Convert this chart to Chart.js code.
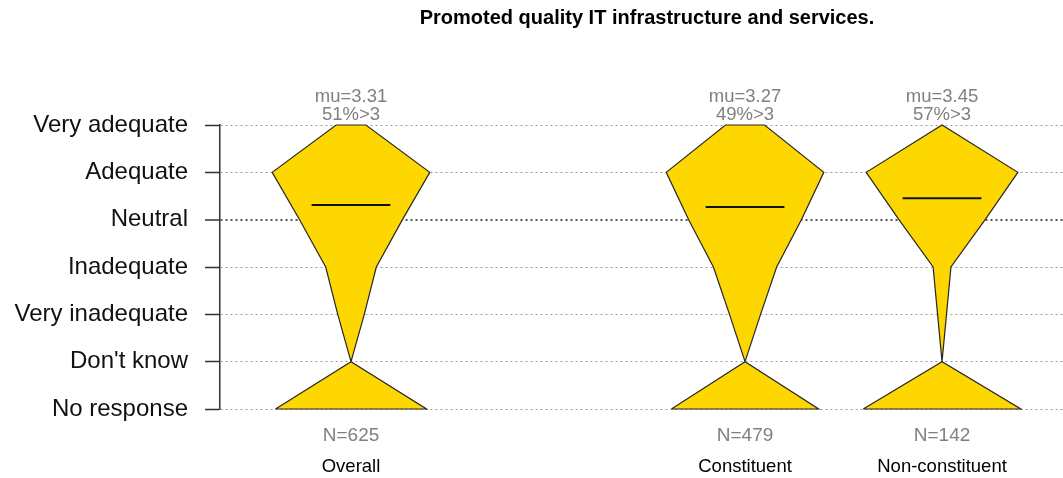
<!DOCTYPE html>
<html>
<head>
<meta charset="utf-8">
<script src="https://cdn.jsdelivr.net/npm/chart.js@4.4.1/dist/chart.umd.min.js"></script>
<style>
  html, body { margin: 0; padding: 0; background: #ffffff; }
  #chart { display: block; }
</style>
</head>
<body>
<canvas id="chart" width="1063" height="478"></canvas>
<script>
const TITLE = 'Promoted quality IT infrastructure and services.';

// y levels, bottom to top
const categories = ['No response', "Don't know", 'Very inadequate', 'Inadequate', 'Neutral', 'Adequate', 'Very adequate'];
const levels     = [-1, 0, 1, 2, 3, 4, 5];

const groups   = ['Overall', 'Constituent', 'Non-constituent'];
const groupPos = [1, 3, 4];

// respondent counts per category (same order as categories)
const overallCounts        = [182, 0, 32, 61, 124, 190, 36];
const constituentCounts    = [128, 0, 27, 55, 98, 137, 34];
const nonConstituentCounts = [53, 0, 3, 6, 29, 51, 0];

const muValues  = [3.31, 3.27, 3.45];
const pctAbove3 = [51, 49, 57];
const nTotals   = [625, 479, 142];

const FONT = '"Liberation Sans", Arial, Helvetica, sans-serif';
const FILL = '#FFD700';
const EDGE = '#262626';
const MAX_HALF = 0.4;   // half width of the widest category, x units
const MEAN_HALF = 0.2;

/* ── build shapes ── */
function violinDatasets(counts, pos) {
  const maxC = Math.max(...counts);
  const w = counts.map(c => c / maxC * MAX_HALF);

  // body: Don't know .. Very adequate
  const body = [];
  for (let k = 1; k < levels.length; k++) body.push({ x: pos - w[k], y: levels[k] });
  for (let k = levels.length - 1; k >= 1; k--) body.push({ x: pos + w[k], y: levels[k] });
  body.push(body[0]);

  // no response triangle
  const tri = [
    { x: pos - w[0], y: levels[0] },
    { x: pos, y: levels[1] },
    { x: pos + w[0], y: levels[0] },
    { x: pos - w[0], y: levels[0] }
  ];

  const base = {
    showLine: true,
    fill: 'shape',
    backgroundColor: FILL,
    borderColor: EDGE,
    borderWidth: 1.2,
    borderJoinStyle: 'miter',
    pointRadius: 0,
    tension: 0,
    clip: false,
    order: 1
  };
  return [{ ...base, data: body }, { ...base, data: tri }];
}

function meanDataset(mu, pos) {
  return {
    showLine: true,
    fill: false,
    data: [{ x: pos - MEAN_HALF, y: mu }, { x: pos + MEAN_HALF, y: mu }],
    borderColor: '#111111',
    borderWidth: 2,
    pointRadius: 0,
    clip: false,
    order: 0
  };
}

const allCounts = [overallCounts, constituentCounts, nonConstituentCounts];
const datasets = [];
groups.forEach((g, i) => {
  datasets.push(meanDataset(muValues[i], groupPos[i]));
  datasets.push(...violinDatasets(allCounts[i], groupPos[i]));
});

/* ── text annotations ── */
const textPlugin = {
  id: 'texts',
  afterDraw(chart) {
    const { ctx, scales: { x } } = chart;
    ctx.save();
    ctx.textAlign = 'center';
    ctx.textBaseline = 'middle';

    ctx.fillStyle = '#000000';
    ctx.font = 'bold 20px ' + FONT;
    ctx.fillText(TITLE, 647, 18);

    groups.forEach((g, i) => {
      const px = x.getPixelForValue(groupPos[i]);
      ctx.fillStyle = '#808080';
      ctx.font = '18.5px ' + FONT;
      ctx.fillText('mu=' + muValues[i].toFixed(2), px, 97);
      ctx.fillText(pctAbove3[i] + '%>3', px, 115);
      ctx.font = '19px ' + FONT;
      ctx.fillText('N=' + nTotals[i], px, 436);
      ctx.fillStyle = '#000000';
      ctx.font = '18.5px ' + FONT;
      ctx.fillText(g, px, 467);
    });
    ctx.restore();
  }
};

new Chart(document.getElementById('chart'), {
  type: 'scatter',
  data: { datasets },
  options: {
    responsive: false,
    animation: false,
    devicePixelRatio: 1,
    layout: { padding: { top: 125, bottom: 69, left: 0, right: 0 } },
    plugins: {
      legend: { display: false },
      tooltip: { enabled: false }
    },
    scales: {
      x: {
        type: 'linear',
        display: false,
        min: 0.335,
        max: 4.614
      },
      y: {
        type: 'linear',
        min: -1,
        max: 5,
        afterFit: s => { s.width = 220; },
        grid: {
          color: ctx => ctx.tick && ctx.tick.value === 3 ? '#555555' : '#9a9a9a',
          lineWidth: ctx => ctx.tick && ctx.tick.value === 3 ? 2 : 1,
          tickLength: 15,
          tickColor: '#333333',
          tickWidth: 1.5,
          tickBorderDash: [1, 0]
        },
        border: { display: true, color: '#333333', width: 1.5, dash: [2, 3] },
        ticks: {
          stepSize: 1,
          autoSkip: false,
          padding: 17,
          color: '#111111',
          font: { size: 24, family: FONT },
          callback: v => categories[levels.indexOf(v)]
        }
      }
    }
  },
  plugins: [textPlugin]
});
</script>
</body>
</html>
